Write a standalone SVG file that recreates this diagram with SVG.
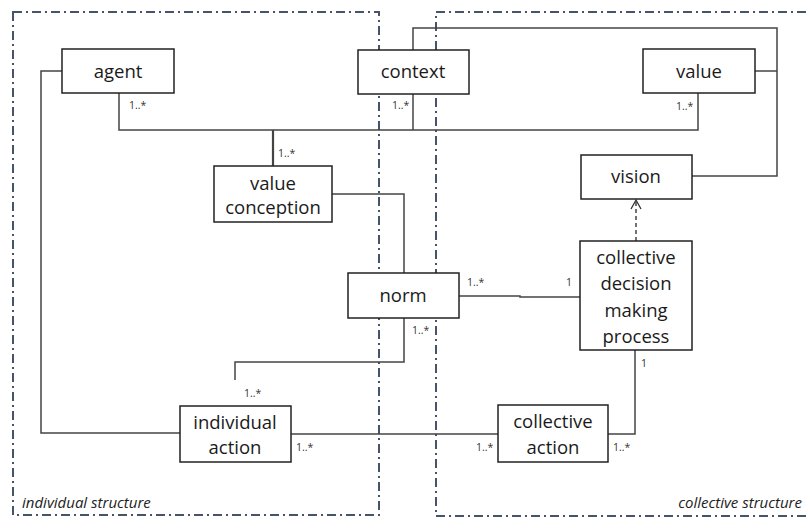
<svg xmlns="http://www.w3.org/2000/svg" width="806" height="518" viewBox="0 0 806 518">
<style>
.region{fill:none;stroke:#44546a;stroke-width:2;stroke-dasharray:9 4 2 4}
.box{fill:#fff;stroke:#222;stroke-width:1.5}
.lbl{font-family:"Open Sans","Liberation Sans",sans-serif;font-size:18.5px;fill:#1a1a1a;text-anchor:middle}
.m{font-family:"Open Sans","Liberation Sans",sans-serif;font-size:10.5px;fill:#333}
.reg{font-family:"Open Sans","Liberation Sans",sans-serif;font-size:15px;font-style:italic;fill:#222}
.c{fill:none;stroke:#444;stroke-width:1.5}
</style>
<defs>
<marker id="open" markerWidth="12" markerHeight="12" refX="10" refY="6" orient="auto" markerUnits="userSpaceOnUse">
<path d="M1,1 L10,6 L1,11" fill="none" stroke="#333" stroke-width="1.3"/>
</marker>
</defs>
<g id="regions">
<rect class="region" x="13" y="12" width="366" height="503"/>
<path class="region" d="M806,12 H436 V516 H806"/>
<text class="reg" x="22" y="508">individual structure</text>
<text class="reg" x="802" y="508" text-anchor="end">collective structure</text>
</g>
<g id="connectors">
<polyline class="c" points="62,71 41,71 41,433 180,433"/>
<polyline class="c" points="119,93 119,130 698,130 698,93"/>
<line class="c" x1="413" y1="94" x2="413" y2="130"/>
<line class="c" x1="273" y1="130" x2="273" y2="166" style="stroke-width:2.2"/>
<polyline class="c" points="413,50 413,28 777,28 777,176 692,176"/>
<line class="c" x1="755" y1="71" x2="777" y2="71"/>
<polyline class="c" points="332,194 404,194 404,273"/>
<polyline class="c" points="404,318 404,362 235,362 235,380"/>
<polyline class="c" points="459,296 520,296 520,297 580,297"/>
<line class="c" x1="291" y1="434" x2="498" y2="434"/>
<polyline class="c" points="608,434 635,434 635,350"/>
<line class="c" x1="636" y1="241" x2="636" y2="200" stroke-dasharray="4 3" marker-end="url(#open)"/>
<text class="m" x="129" y="109">1..*</text>
<text class="m" x="392" y="109">1..*</text>
<text class="m" x="676" y="110">1..*</text>
<text class="m" x="278" y="157">1..*</text>
<text class="m" x="467" y="286">1..*</text>
<text class="m" x="566" y="286">1</text>
<text class="m" x="412" y="334">1..*</text>
<text class="m" x="244" y="397">1..*</text>
<text class="m" x="296" y="451">1..*</text>
<text class="m" x="476" y="451">1..*</text>
<text class="m" x="613" y="451">1..*</text>
<text class="m" x="641" y="367">1</text>
</g>
<g id="agent"><rect class="box" x="62" y="49" width="112" height="44"/><text class="lbl" x="118" y="78">agent</text></g>
<g id="context"><rect class="box" x="358" y="50" width="111" height="44"/><text class="lbl" x="413" y="78">context</text></g>
<g id="value"><rect class="box" x="643" y="49" width="112" height="44"/><text class="lbl" x="699" y="78">value</text></g>
<g id="value-conception"><rect class="box" x="214" y="166" width="118" height="56"/><text class="lbl" x="273" y="190">value</text><text class="lbl" x="273" y="214">conception</text></g>
<g id="vision"><rect class="box" x="581" y="155" width="111" height="44"/><text class="lbl" x="636" y="183">vision</text></g>
<g id="cdmp"><rect class="box" x="580" y="241" width="112" height="109"/><text class="lbl" x="636" y="264">collective</text><text class="lbl" x="636" y="290">decision</text><text class="lbl" x="636" y="317">making</text><text class="lbl" x="636" y="343">process</text></g>
<g id="norm"><rect class="box" x="348" y="273" width="111" height="45"/><text class="lbl" x="403" y="302">norm</text></g>
<g id="individual-action"><rect class="box" x="180" y="406" width="111" height="56"/><text class="lbl" x="235" y="429">individual</text><text class="lbl" x="235" y="454">action</text></g>
<g id="collective-action"><rect class="box" x="498" y="405" width="110" height="57"/><text class="lbl" x="553" y="428">collective</text><text class="lbl" x="553" y="454">action</text></g>
</svg>
